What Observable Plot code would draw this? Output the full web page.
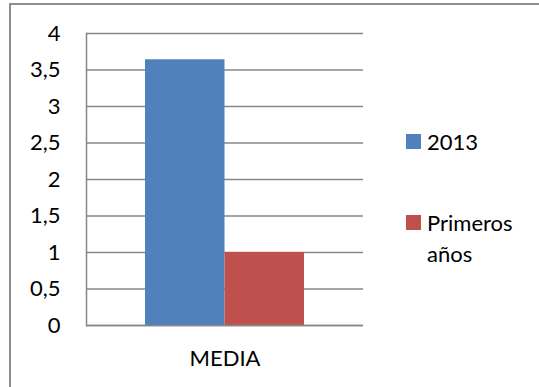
<!DOCTYPE html>
<html>
<head>
<meta charset="utf-8">
<script src="https://cdn.jsdelivr.net/npm/d3@7"></script>
<script src="https://cdn.jsdelivr.net/npm/@observablehq/plot@0.6"></script>
<style>
  html, body { margin: 0; padding: 0; background: #fff; }
  #wrap { position: relative; width: 539px; height: 387px; overflow: hidden; font-family: Lato, "Open Sans", sans-serif; }
  #border { position: absolute; left: 9px; top: 3px; width: 540px; height: 400px; border-top: 2px solid #8e8e8e; border-left: 2px solid #8e8e8e; box-sizing: border-box; }
  #chart { position: absolute; left: 0; top: 0; }
  #legend { position: absolute; left: 406px; top: 0; font-size: 22px; line-height: 31px; color: #000; }
  .item { position: absolute; left: 0; white-space: normal; width: 125px; }
  .sw { position: absolute; left: 0; width: 15px; height: 15px; }
  .lbl { position: absolute; left: 21px; width: 100px; }
</style>
</head>
<body>
<div id="wrap">
  <div id="border"></div>
  <div id="chart"></div>
  <div id="legend"></div>
</div>
<script>
const categories = ["MEDIA"];
const series = ["2013", "Primeros años"];
const values = [3.64, 1.0];
const colors = ["#4F81BD", "#C0504D"];
const yTicks = [0, 0.5, 1, 1.5, 2, 2.5, 3, 3.5, 4];

const data = series.map((s, i) => ({cat: categories[0], series: s, value: values[i]}));

const chart = Plot.plot({
  width: 539,
  height: 387,
  marginLeft: 86,
  marginRight: 176,
  marginTop: 33,
  marginBottom: 62,
  style: {fontFamily: "Lato, 'Open Sans', sans-serif", fontSize: "22px", color: "#000", background: "transparent"},
  fx: {domain: categories, paddingInner: 0, paddingOuter: 0, axis: null},
  x: {domain: series, paddingInner: 0, paddingOuter: 0.742, axis: null, round: false},
  y: {domain: [0, 4], axis: null},
  color: {domain: series, range: colors},
  marks: [
    Plot.ruleY(yTicks, {stroke: "#878787", strokeWidth: 1.5}),
    Plot.barY(data, {fx: "cat", x: "series", y: "value", fill: "series"}),
    Plot.ruleY([0], {stroke: "#878787", strokeWidth: 1.5}),
    Plot.frame({anchor: "left", stroke: "#878787", strokeWidth: 1.5}),
    Plot.axisY(yTicks, {tickSize: 0, tickPadding: 26, tickFormat: d => String(d).replace(".", ","), fontSize: 22, fill: "#000", label: null}),
    Plot.axisFx({anchor: "bottom", tickSize: 0, tickPadding: 25, fontSize: 22, label: null, fill: "#000"})
  ]
});
document.getElementById("chart").appendChild(chart);

const legend = document.getElementById("legend");
const tops = [126, 207];
series.forEach((s, i) => {
  const item = document.createElement("div");
  item.className = "item";
  item.style.top = tops[i] + "px";
  const sw = document.createElement("div");
  sw.className = "sw";
  sw.style.background = colors[i];
  sw.style.top = "8px";
  const lbl = document.createElement("div");
  lbl.className = "lbl";
  lbl.textContent = s;
  item.appendChild(sw);
  item.appendChild(lbl);
  legend.appendChild(item);
});
</script>
</body>
</html>
